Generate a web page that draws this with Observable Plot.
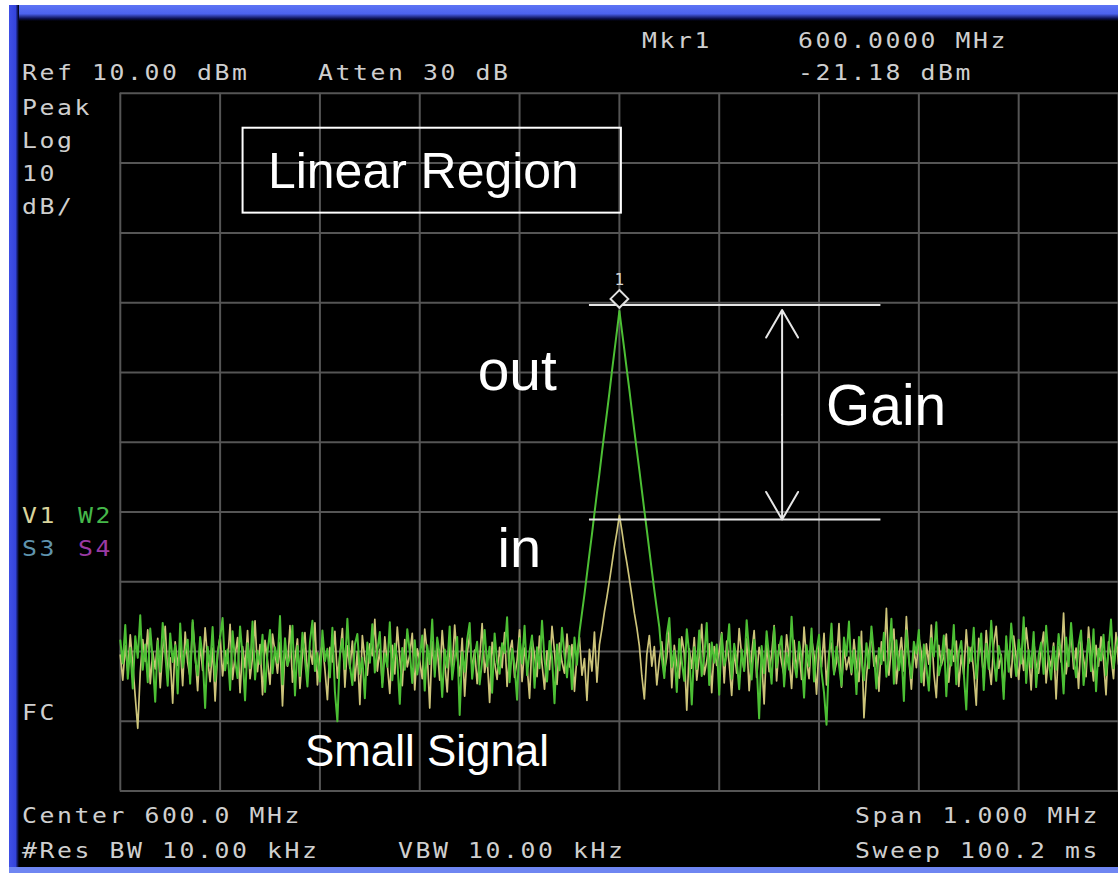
<!DOCTYPE html>
<html>
<head>
<meta charset="utf-8">
<script src="https://cdn.jsdelivr.net/npm/d3@7"></script>
<script src="https://cdn.jsdelivr.net/npm/@observablehq/plot@0.6"></script>
<style>
  html, body { margin: 0; padding: 0; background: #ffffff; }
  #screen { position: relative; width: 1118px; height: 873px; overflow: hidden; background: #ffffff; }
  #black { position: absolute; left: 9px; top: 5px; width: 1109px; height: 868px; background: #000; }
  #topbar { position: absolute; left: 9px; top: 5px; width: 1109px; height: 16px;
            background: linear-gradient(to bottom, #5d74f4 0%, #4c62ee 55%, #0b1050 85%, #000 100%); }
  #leftbar { position: absolute; left: 9px; top: 5px; width: 10px; height: 868px;
             background: linear-gradient(to right, #3f4fe6 0%, #3444dc 65%, #0a0e40 90%, #000 100%); }
  #bottombar { position: absolute; left: 9px; top: 867px; width: 1109px; height: 6px; background: #6f86f2; }
  #plot { position: absolute; left: 0; top: 0; }
  #labels { position: absolute; left: 0; top: 0; }
</style>
</head>
<body>
<div id="screen">
  <div id="black"></div>
  <div id="topbar"></div>
  <div id="leftbar"></div>
  <div id="bottombar"></div>
  <div id="plot"></div>
  <svg id="labels" width="1118" height="873"></svg>
</div>
<script>
// ---------------- data ----------------
// sweep: 599.5 MHz .. 600.5 MHz, 401 points (center 600 MHz, span 1 MHz)
const sweepStartMHz = 599.5;
const sweepStepMHz = 0.0025;

// Trace 1 (V1, yellow) – input signal, dBm
const yellowDbm = [
-70.5,-74.1,-69.2,-72.8,-67.6,-71.9,-76.5,-81.0,-73.0,-68.3,-71.4,-66.9,-74.6,-70.0,-72.5,-68.1,-75.2,-69.7,-66.4,-73.3,
-70.9,-77.4,-68.6,-72.0,-69.1,-74.9,-67.2,-71.6,-73.7,-65.8,-70.4,-75.6,-68.9,-72.7,-66.6,-71.1,-74.3,-69.5,-77.1,-70.2,
-67.8,-73.5,-69.9,-71.7,-66.1,-74.0,-70.6,-68.0,-75.9,-69.3,-72.3,-67.0,-73.9,-70.8,-65.6,-72.9,-69.0,-76.2,-68.4,-71.3,
-74.7,-67.5,-70.1,-73.1,-68.7,-77.8,-69.6,-72.1,-66.3,-74.4,-71.0,-68.2,-75.3,-70.3,-67.3,-73.6,-69.8,-71.8,-65.9,-74.8,
-70.7,-68.8,-72.6,-76.9,-69.4,-71.5,-67.1,-73.8,-70.5,-66.7,-75.1,-69.2,-72.4,-68.5,-74.2,-70.0,-77.6,-67.7,-71.2,-73.4,
-68.9,-70.6,-65.4,-72.8,-69.7,-74.5,-67.9,-71.9,-76.0,-69.1,-73.2,-66.5,-70.9,-74.9,-68.3,-72.2,-70.4,-67.4,-75.5,-69.6,
-71.4,-73.9,-66.8,-70.2,-78.1,-68.6,-72.7,-69.3,-74.1,-67.0,-71.7,-75.8,-69.0,-72.9,-66.2,-70.8,-73.5,-68.1,-76.4,-70.3,
-67.6,-72.5,-69.8,-74.6,-71.1,-66.0,-73.0,-70.7,-77.3,-68.7,-71.6,-74.0,-69.4,-72.3,-67.3,-75.0,-70.1,-68.4,-73.7,-71.3,
-66.9,-74.3,-69.5,-72.0,-76.7,-68.2,-70.5,-73.6,-67.8,-71.8,-75.4,-69.9,-72.6,-66.4,-70.0,-74.7,-68.8,-71.5,-73.1,-67.5,
-72.2,-69.0,-75.7,-70.6,-68.0,-73.4,-71.0,-77.0,-69.7,-72.8,-67.2,-74.4,-69.0,-66.8,-64.3,-62.2,-59.9,-57.5,-55.0,-52.9,
-50.5,-52.7,-55.2,-57.3,-59.6,-62.0,-64.5,-66.6,-69.2,-73.5,-76.8,-70.4,-67.7,-72.1,-69.3,-74.8,-71.2,-68.6,-73.0,-70.8,
-66.6,-75.2,-69.1,-71.9,-73.8,-67.9,-70.2,-78.4,-69.6,-72.4,-68.0,-74.1,-70.7,-66.1,-73.3,-71.4,-68.9,-75.9,-69.3,-72.0,
-70.0,-67.3,-74.5,-68.5,-71.7,-76.3,-69.8,-73.1,-66.7,-70.6,-72.7,-68.2,-75.6,-70.3,-67.0,-73.7,-69.4,-71.1,-77.5,-68.7,
-72.9,-70.4,-66.3,-74.2,-69.0,-71.6,-73.5,-67.6,-70.9,-75.3,-68.4,-72.5,-69.7,-74.0,-66.5,-71.2,-73.9,-68.1,-70.5,-76.1,
-69.2,-72.2,-67.4,-74.8,-70.1,-68.8,-73.2,-71.5,-66.0,-75.1,-69.5,-72.6,-70.8,-73.3,-68.3,-71.9,-74.3,-67.1,-79.5,-73.6,
-69.9,-67.7,-72.1,-70.6,-75.7,-68.6,-71.3,-63.8,-73.4,-69.3,-66.8,-74.6,-70.9,-68.0,-72.8,-65.0,-71.0,-75.4,-69.6,-72.3,
-67.9,-70.2,-74.9,-68.9,-71.8,-66.2,-73.0,-76.6,-69.1,-72.0,-70.7,-67.5,-74.4,-69.8,-71.4,-68.5,-75.0,-70.5,-73.3,-66.9,
-71.7,-69.4,-72.9,-77.7,-68.1,-70.0,-73.8,-67.0,-71.6,-74.7,-69.0,-66.4,-72.4,-70.4,-75.8,-68.7,-71.2,-73.7,-67.8,-70.8,
-74.0,-69.6,-72.7,-66.6,-70.1,-75.5,-68.4,-71.9,-73.1,-69.7,-67.2,-74.5,-70.6,-72.2,-68.8,-76.8,-69.3,-71.5,-64.5,-73.2,
-70.3,-67.4,-72.5,-69.5,-75.3,-68.2,-71.0,-73.6,-66.5,-70.9,-74.2,-69.1,-72.1,-67.9,-71.3,-76.2,-68.6,-70.7,-73.9,-67.3,
-71.8];

// Trace 2 (W2, green) – output signal, dBm
const greenDbm = [
-68.4,-71.7,-66.2,-73.9,-69.5,-75.3,-67.8,-70.9,-64.8,-72.6,-69.0,-74.4,-66.7,-71.2,-77.2,-68.5,-72.9,-65.9,-70.3,-74.9,
-67.4,-71.5,-69.1,-76.0,-66.0,-72.3,-70.0,-68.3,-74.6,-65.5,-71.0,-73.4,-67.9,-70.7,-78.1,-69.3,-72.1,-66.5,-74.2,-70.4,
-68.0,-65.2,-72.7,-69.7,-75.5,-67.1,-71.3,-73.8,-66.4,-70.6,-77.0,-68.8,-72.4,-65.7,-74.0,-69.9,-71.8,-67.6,-75.8,-70.1,
-66.9,-73.1,-69.4,-71.6,-64.9,-74.7,-68.1,-72.0,-70.8,-66.3,-76.3,-69.2,-73.5,-67.3,-71.1,-75.0,-68.6,-65.6,-72.8,-70.2,
-74.3,-67.0,-71.4,-69.6,-73.7,-66.6,-75.7,-80.0,-70.5,-68.2,-72.5,-65.3,-71.9,-74.8,-69.0,-67.5,-73.2,-70.9,-76.7,-68.7,
-71.6,-66.1,-73.0,-69.8,-67.2,-75.1,-70.3,-72.2,-65.8,-74.1,-68.9,-71.2,-77.5,-69.5,-72.6,-66.8,-70.0,-74.5,-68.4,-73.3,
-70.7,-67.7,-75.6,-69.1,-71.8,-65.4,-73.6,-68.0,-70.4,-76.5,-69.7,-72.3,-66.4,-74.0,-71.0,-67.9,-79.1,-70.1,-72.9,-68.3,
-65.9,-73.9,-70.6,-68.6,-74.7,-71.3,-66.9,-72.1,-69.3,-75.9,-67.4,-71.5,-73.2,-68.8,-70.2,-65.1,-74.4,-69.6,-72.0,-76.9,
-68.1,-71.7,-66.3,-73.4,-70.0,-67.7,-75.2,-69.4,-72.4,-65.6,-71.1,-74.3,-68.5,-70.8,-77.4,-69.0,-72.7,-66.6,-70.5,-73.7,
-69.2,-75.4,-68.0,-71.9,-67.2,-64.5,-61.8,-58.9,-56.0,-53.2,-50.2,-47.3,-44.5,-41.5,-38.6,-35.8,-32.9,-29.9,-27.0,-24.1,
-21.18,-24.0,-26.8,-29.7,-32.5,-35.5,-38.4,-41.2,-44.0,-46.9,-49.8,-52.6,-55.5,-58.4,-61.2,-63.9,-66.5,-70.9,-73.8,-67.6,
-65.2,-72.2,-69.9,-75.8,-68.2,-71.4,-74.2,-66.8,-70.3,-77.6,-69.4,-72.5,-67.0,-73.5,-70.7,-65.9,-74.8,-68.7,-71.6,-69.0,
-76.2,-67.5,-72.0,-70.5,-66.1,-73.9,-68.9,-71.2,-75.4,-69.7,-72.8,-65.5,-70.1,-74.0,-68.3,-71.7,-79.6,-69.2,-73.1,-67.1,
-70.8,-74.6,-66.5,-72.3,-69.6,-67.8,-75.0,-70.2,-72.6,-65.0,-71.5,-73.7,-68.6,-70.9,-76.6,-69.1,-72.1,-66.7,-74.3,-70.0,
-67.6,-72.9,-75.9,-80.5,-71.0,-66.0,-73.3,-69.3,-71.9,-74.9,-68.0,-70.6,-65.7,-73.0,-69.8,-76.1,-67.9,-71.3,-74.1,-68.8,
-72.4,-66.4,-70.4,-75.3,-69.5,-71.8,-67.3,-73.6,-70.8,-65.3,-74.6,-68.4,-72.7,-69.9,-77.1,-67.0,-71.1,-73.8,-68.6,-70.3,
-66.9,-74.4,-69.0,-72.2,-75.6,-68.1,-70.7,-65.8,-73.4,-71.6,-67.7,-76.4,-69.7,-72.0,-66.2,-74.7,-70.2,-68.5,-73.1,-78.3,
-69.4,-71.4,-66.6,-73.9,-70.5,-67.4,-75.5,-68.9,-72.5,-65.6,-71.0,-74.2,-69.2,-70.9,-76.8,-67.8,-72.9,-66.0,-70.1,-73.5,
-68.3,-71.7,-65.1,-74.5,-69.8,-72.3,-67.2,-75.1,-70.6,-68.7,-73.2,-66.3,-71.2,-74.0,-69.3,-72.6,-67.5,-70.4,-76.0,-68.0,
-72.1,-65.9,-70.8,-73.7,-69.1,-67.0,-74.8,-71.5,-68.2,-72.8,-66.8,-75.7,-69.6,-71.3,-67.6,-73.4,-70.0,-65.4,-72.4,-69.4,
-67.9];

// graticule (10 divisions each way)
const xGridMHz = [599.5, 599.6, 599.7, 599.8, 599.9, 600.0, 600.1, 600.2, 600.3, 600.4, 600.5];
const yGridDbm = [10, 0, -10, -20, -30, -40, -50, -60, -70, -80, -90];

// marker 1
const markerMHz = [600.0];
const markerDbm = [-21.18];

// gain annotation levels (dBm) and frequency extent (MHz)
const gainLevelsDbm = [-20.33, -51.09];
const gainSpanMHz = [599.970, 600.262];
const gainArrowMHz = 600.163;
const gainArrowDbm = [-21.04, -51.09];

// ---------------- chart ----------------
const rows = greenDbm.map((g, i) => ({f: sweepStartMHz + i * sweepStepMHz, green: g, yellow: yellowDbm[i]}));
const arrowMid = (gainArrowDbm[0] + gainArrowDbm[1]) / 2;
const markerRows = markerMHz.map((f, i) => ({f, v: markerDbm[i]}));

const sans = "'Liberation Sans', Arial, sans-serif";

const chart = Plot.plot({
  width: 1120,
  height: 873,
  marginLeft: 120,
  marginRight: 0,
  marginTop: 93,
  marginBottom: 81,
  x: {domain: [599.5, 600.5], axis: null},
  y: {domain: [-90, 10], axis: null},
  style: {background: "transparent", overflow: "visible"},
  marks: [
    Plot.gridX(xGridMHz, {stroke: "#555555", strokeOpacity: 1, strokeWidth: 2}),
    Plot.gridY(yGridDbm, {stroke: "#555555", strokeOpacity: 1, strokeWidth: 2}),
    Plot.line(rows, {x: "f", y: "yellow", stroke: "#cdc47a", strokeWidth: 1.7}),
    Plot.line(rows, {x: "f", y: "green", stroke: "#4cbf34", strokeWidth: 2}),
    // Linear Region box
    Plot.rect([{x1: 599.623, x2: 600.002, y1: 5.0, y2: -7.17}],
      {x1: "x1", x2: "x2", y1: "y1", y2: "y2", fill: "none", stroke: "#ffffff", strokeWidth: 2}),
    Plot.text(["Linear Region"], {x: 599.648, y: -3.59, text: d => d, textAnchor: "start", lineAnchor: "bottom",
      fill: "#ffffff", fontSize: 50, fontFamily: sans}),
    // gain reference lines
    Plot.ruleY(gainLevelsDbm, {x1: gainSpanMHz[0], x2: gainSpanMHz[1], stroke: "#e6e6e6", strokeWidth: 2}),
    Plot.arrow([{y1: arrowMid, y2: gainArrowDbm[0]}, {y1: arrowMid, y2: gainArrowDbm[1]}],
      {x1: gainArrowMHz, x2: gainArrowMHz, y1: "y1", y2: "y2", stroke: "#e6e6e6", strokeWidth: 2,
       headLength: 24, headAngle: 60}),
    // labels
    Plot.text(["out"], {x: 599.858, y: -32.49, text: d => d, textAnchor: "start", lineAnchor: "bottom",
      fill: "#ffffff", fontSize: 57, fontFamily: sans}),
    Plot.text(["in"], {x: 599.878, y: -57.95, text: d => d, textAnchor: "start", lineAnchor: "bottom",
      fill: "#ffffff", fontSize: 56, fontFamily: sans}),
    Plot.text(["Gain"], {x: 600.207, y: -37.5, text: d => d, textAnchor: "start", lineAnchor: "bottom",
      fill: "#ffffff", fontSize: 57, fontFamily: sans}),
    Plot.text(["Small Signal"], {x: 599.685, y: -86.42, text: d => d, textAnchor: "start", lineAnchor: "bottom",
      fill: "#ffffff", fontSize: 44, fontFamily: sans}),
    // marker
    Plot.dot(markerRows,
      {x: "f", y: "v", symbol: "diamond2", r: 8, dy: -12, fill: "#000000", stroke: "#e0e0e0", strokeWidth: 2}),
    Plot.text(markerRows,
      {x: "f", y: "v", text: () => "1", dy: -31, fill: "#d8d8d8", fontSize: 16, fontFamily: "'DejaVu Sans Mono', monospace"})
  ]
});
document.getElementById("plot").appendChild(chart);

// ---------------- instrument annotations (screen text) ----------------
const instrumentText = [
  {t: "Mkr1", x: 642, y: 48, c: "#cfcfcf"},
  {t: "600.0000 MHz", x: 798, y: 48, c: "#cfcfcf"},
  {t: "Ref 10.00 dBm", x: 22, y: 80, c: "#cfcfcf"},
  {t: "Atten 30 dB", x: 318, y: 80, c: "#cfcfcf"},
  {t: "-21.18 dBm", x: 798, y: 80, c: "#cfcfcf"},
  {t: "Peak", x: 22, y: 115, c: "#cfcfcf"},
  {t: "Log", x: 22, y: 148, c: "#cfcfcf"},
  {t: "10", x: 22, y: 181, c: "#cfcfcf"},
  {t: "dB/", x: 22, y: 214, c: "#cfcfcf"},
  {t: "V1", x: 22, y: 523, c: "#d9d49c"},
  {t: "W2", x: 78, y: 523, c: "#45b84a"},
  {t: "S3", x: 22, y: 556, c: "#5f93ad"},
  {t: "S4", x: 78, y: 556, c: "#9a3aa4"},
  {t: "FC", x: 22, y: 720, c: "#cfcfcf"},
  {t: "Center 600.0 MHz", x: 22, y: 823, c: "#cfcfcf"},
  {t: "#Res BW 10.00 kHz", x: 22, y: 858, c: "#cfcfcf"},
  {t: "VBW 10.00 kHz", x: 398, y: 858, c: "#cfcfcf"},
  {t: "Span 1.000 MHz", x: 855, y: 823, c: "#cfcfcf"},
  {t: "Sweep 100.2 ms", x: 855, y: 858, c: "#cfcfcf"}
];
const lab = d3.select("#labels");
lab.selectAll("text").data(instrumentText).join("text")
  .attr("transform", d => `translate(${d.x},${d.y}) scale(1.18,1)`)
  .attr("fill", d => d.c)
  .attr("font-family", "'DejaVu Sans Mono', monospace")
  .attr("font-size", 21)
  .attr("letter-spacing", 2.2)
  .text(d => d.t);
</script>
</body>
</html>
